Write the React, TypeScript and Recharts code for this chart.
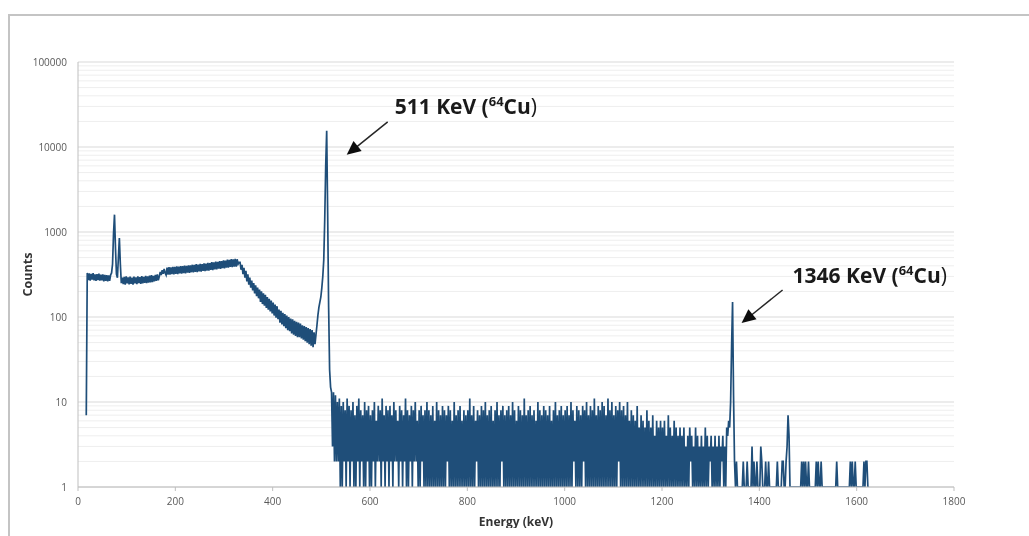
import { LineChart, Line, XAxis, YAxis, CartesianGrid, ReferenceDot, Label } from 'recharts';

// detector calibration: first channel and channel width
const channelStartKeV = 17;
const keVPerChannel = 2;

// 17 - 331 keV : X-ray peaks and flat Compton continuum
const lowEnergyCounts = [
  7,
  330, 272, 326, 268, 322, 276, 328, 270, 318, 266, 320, 272, 324, 268, 314, 270, 318, 262, 312, 266,
  310, 262, 308, 266, 312, 330,
  420, 950, 1600, 650, 320, 290, 500, 850, 420, 250,
  290, 244, 296, 240, 300, 248, 292, 242, 298, 246, 290, 240, 298, 248, 292, 244, 300, 250, 294, 246,
  302, 248, 296, 252, 304, 250, 300, 254, 306, 256, 310, 258, 304, 262, 314, 266, 318, 270,
  300, 340, 312, 356, 322, 368, 330,
  312, 380, 316, 386, 314, 384, 320, 390, 318, 388, 322, 394, 320, 392, 326, 398, 324, 396, 328, 402,
  326, 400, 332, 406, 330, 404, 336, 412, 334, 410, 340, 418, 338, 414, 344, 422, 342, 420, 348, 428,
  346, 426, 352, 434, 350, 432, 358, 442, 356, 440, 364, 448, 362, 446, 370, 456, 368, 454, 376, 464,
  374, 462, 382, 472, 380, 470, 388, 480, 386, 476, 392, 484, 390, 478, 420, 440,
];

// 333 - 519 keV : Compton edge, valley and the 511 keV annihilation peak
const comptonCounts = [
  440, 360, 410, 320, 380, 290, 350, 262, 318, 240, 290, 222, 268, 205, 250, 190, 236, 176, 222, 166,
  210, 150, 200, 142, 190, 136, 182, 128, 172, 122, 164, 116, 156, 110, 148, 104, 140, 98, 134, 94,
  122, 86, 118, 82, 112, 78, 108, 74, 104, 70, 100, 68, 96, 64, 94, 62, 90, 60, 88, 58,
  86, 58, 84, 56, 80, 54, 78, 52, 76, 50, 74, 48, 72, 46, 70, 44, 66, 48, 62, 80,
  105, 130, 150, 172, 220, 300, 470, 1400, 6000, 15500, 1700, 130, 24, 15,
];

// 521 - 1339 keV : low count continuum
const continuumCounts = [
  13, 3, 13, 2, 12, 2, 10, 2, 11, 1, 9, 1, 10, 2, 8, 1, 11, 2, 9, 1,
  8, 2, 10, 1, 7, 1, 9, 2, 11, 1, 8, 2, 7, 1, 10, 1, 8, 2, 9, 1,
  7, 1, 8, 2, 10, 1, 6, 2, 9, 2, 8, 1, 11, 2, 7, 1, 9, 2, 8, 1,
  9, 2, 7, 1, 10, 2, 8, 2, 6, 1, 9, 2, 8, 1, 7, 2, 11, 1, 8, 1,
  7, 2, 9, 1, 8, 2, 10, 2, 6, 1, 8, 1, 9, 2, 7, 1, 8, 1, 10, 1,
  8, 1, 7, 1, 9, 1, 6, 1, 10, 1, 8, 1, 7, 1, 9, 1, 8, 1, 7, 2,
  9, 1, 8, 1, 6, 1, 10, 1, 7, 1, 8, 1, 9, 1, 6, 1, 8, 1, 7, 1,
  8, 1, 11, 1, 7, 1, 9, 1, 6, 2, 8, 1, 7, 1, 9, 1, 8, 1, 10, 1,
  7, 1, 8, 1, 9, 1, 6, 1, 8, 1, 10, 1, 7, 1, 8, 2, 9, 1, 7, 1,
  8, 1, 9, 1, 7, 1, 10, 1, 8, 1, 6, 1, 9, 1, 8, 1, 7, 1, 11, 1,
  7, 1, 8, 1, 9, 1, 7, 1, 8, 1, 6, 1, 10, 1, 8, 1, 7, 1, 9, 1,
  8, 1, 7, 1, 9, 1, 6, 1, 8, 1, 10, 1, 7, 1, 8, 1, 9, 1, 7, 1,
  8, 1, 9, 1, 7, 1, 10, 1, 8, 2, 6, 1, 9, 1, 8, 1, 7, 1, 9, 2,
  8, 1, 10, 1, 7, 1, 9, 1, 8, 1, 11, 1, 7, 1, 9, 1, 8, 1, 10, 1,
  9, 1, 7, 1, 11, 1, 8, 1, 10, 1, 7, 1, 9, 1, 8, 2, 10, 1, 8, 1,
  9, 1, 7, 1, 10, 1, 6, 1, 8, 1, 7, 1, 6, 1, 9, 1, 5, 1, 7, 1,
  6, 1, 5, 1, 8, 1, 6, 1, 5, 1, 7, 1, 4, 1, 6, 1, 5, 1, 6, 1,
  5, 1, 6, 1, 4, 1, 7, 1, 5, 1, 4, 1, 6, 1, 5, 1, 4, 1, 5, 1,
  4, 1, 5, 1, 3, 1, 4, 1, 5, 2, 4, 1, 3, 1, 5, 1, 4, 1, 3, 1,
  4, 1, 3, 1, 5, 1, 4, 1, 3, 2, 4, 1, 3, 1, 4, 1, 3, 1, 4, 1,
  3, 2, 4, 1, 3, 1, 5, 4, 6, 5,
];

// 1341 - 1625 keV : 1346 keV peak and sparse counts above it
const highEnergyCounts = [
  10, 45, 150, 12, 2, 1, 2, 1, 1, 1,
  1, 1, 1, 2, 1, 1, 1, 2, 1, 1,
  1, 1, 3, 1, 2, 1, 1, 2, 1, 1,
  1, 3, 2, 1, 1, 1, 2, 1, 1, 2,
  1, 1, 1, 1, 1, 1, 1, 1, 2, 1,
  1, 1, 1, 2, 2, 1, 1, 2, 3, 7,
  4, 1, 1, 1, 1, 1, 1, 1, 1, 1,
  1, 1, 1, 2, 1, 2, 1, 2, 1, 1,
  2, 1, 1, 1, 1, 1, 1, 1, 2, 1,
  2, 1, 1, 2, 1, 1, 1, 1, 1, 1,
  1, 1, 1, 1, 1, 1, 1, 1, 1, 2,
  1, 1, 1, 1, 1, 1, 1, 1, 1, 1,
  1, 1, 1, 2, 1, 2, 1, 1, 2, 1,
  1, 1, 1, 1, 1, 1, 1, 2, 1, 2,
  2, 1, 1,
];

const energyTicks = [0, 200, 400, 600, 800, 1000, 1200, 1400, 1600, 1800];
const countTicks = [1, 10, 100, 1000, 10000, 100000];
const minorCountLines = [
  2, 3, 4, 5, 6, 7, 8, 9,
  20, 30, 40, 50, 60, 70, 80, 90,
  200, 300, 400, 500, 600, 700, 800, 900,
  2000, 3000, 4000, 5000, 6000, 7000, 8000, 9000,
  20000, 30000, 40000, 50000, 60000, 70000, 80000, 90000,
];

const peakNotes = [
  { energy: 511, counts: 15500, label: '511 KeV', mass: '64', element: 'Cu', tip: [20, 24], tail: [61, -9], textAt: [68, -17] },
  { energy: 1345, counts: 150, label: '1346 KeV', mass: '64', element: 'Cu', tip: [9, 21], tail: [50, -12], textAt: [60, -19] },
];

const spectrum = [...lowEnergyCounts, ...comptonCounts, ...continuumCounts, ...highEnergyCounts].map(
  (counts, i) => ({ energy: channelStartKeV + i * keVPerChannel, counts })
);

const FONT = "'Open Sans', sans-serif";
const BLUE = '#1F4E79';

const noteShape = (note: (typeof peakNotes)[number]) => (props: any) => {
  const { cx, cy } = props;
  const tx = cx + note.tip[0];
  const ty = cy + note.tip[1];
  const sx = cx + note.tail[0];
  const sy = cy + note.tail[1];
  const len = Math.hypot(tx - sx, ty - sy);
  const ux = (tx - sx) / len;
  const uy = (ty - sy) / len;
  const head = 14;
  const half = 6.5;
  const bx = tx - ux * head;
  const by = ty - uy * head;
  return (
    <g>
      <line x1={sx} y1={sy} x2={bx + ux * 2} y2={by + uy * 2} stroke="#262626" strokeWidth={1.5} />
      <polygon
        points={`${tx},${ty} ${bx - uy * half},${by + ux * half} ${bx + uy * half},${by - ux * half}`}
        fill="#0d0d0d"
      />
      <text x={cx + note.textAt[0]} y={cy + note.textAt[1]} fontSize={21} fontWeight={700} fill="#1a1a1a" fontFamily={FONT}>
        {note.label} (<tspan dy={-8} fontSize={13}>{note.mass}</tspan>
        <tspan dy={8}>{note.element}</tspan>
        <tspan fontWeight={400}>)</tspan>
      </text>
    </g>
  );
};

export default function App() {
  return (
    <div style={{ position: 'relative', width: 1013, height: 528, marginBottom: -8, fontFamily: FONT }}>
      <div
        style={{
          position: 'fixed',
          left: 8,
          top: 14,
          width: 1021,
          height: 522,
          borderTop: '2px solid #c4c4c4',
          borderLeft: '2px solid #c4c4c4',
          boxSizing: 'border-box',
          pointerEvents: 'none',
        }}
      />
      <LineChart width={1013} height={528} data={spectrum} margin={{ top: 54, right: 67, bottom: 0, left: 0 }}>
        <CartesianGrid vertical={false} horizontalValues={minorCountLines} stroke="#eeeeee" />
        <CartesianGrid vertical={false} horizontalValues={countTicks} stroke="#d9d9d9" />
        <XAxis
          type="number"
          dataKey="energy"
          domain={[0, 1800]}
          ticks={energyTicks}
          interval={0}
          height={49}
          tickSize={4}
          tickMargin={7}
          tickLine={{ stroke: '#bfbfbf' }}
          axisLine={{ stroke: '#bfbfbf' }}
          tick={{ fontSize: 10, fill: '#595959', fontFamily: FONT }}
        >
          <Label
            value="Energy (keV)"
            position="insideBottom"
            offset={10}
            style={{ fontSize: 12, fontWeight: 700, fill: '#333333', fontFamily: FONT }}
          />
        </XAxis>
        <YAxis
          type="number"
          scale="log"
          domain={[1, 100000]}
          allowDataOverflow
          ticks={countTicks}
          interval={0}
          width={70}
          tickLine={false}
          tickSize={0}
          tickMargin={11}
          axisLine={{ stroke: '#bfbfbf' }}
          tickFormatter={(v: number) => String(v)}
          tick={{ fontSize: 10, fill: '#595959', fontFamily: FONT }}
        >
          <Label
            value="Counts"
            position="insideLeft"
            angle={-90}
            offset={20}
            style={{ fontSize: 12.5, fontWeight: 700, fill: '#333333', fontFamily: FONT, textAnchor: 'middle' }}
          />
        </YAxis>
        <Line
          type="linear"
          dataKey="counts"
          stroke={BLUE}
          strokeWidth={1.7}
          dot={false}
          isAnimationActive={false}
        />
        {peakNotes.map((note) => (
          <ReferenceDot
            key={note.label}
            x={note.energy}
            y={note.counts}
            r={1}
            ifOverflow="visible"
            shape={noteShape(note)}
          />
        ))}
      </LineChart>
    </div>
  );
}
